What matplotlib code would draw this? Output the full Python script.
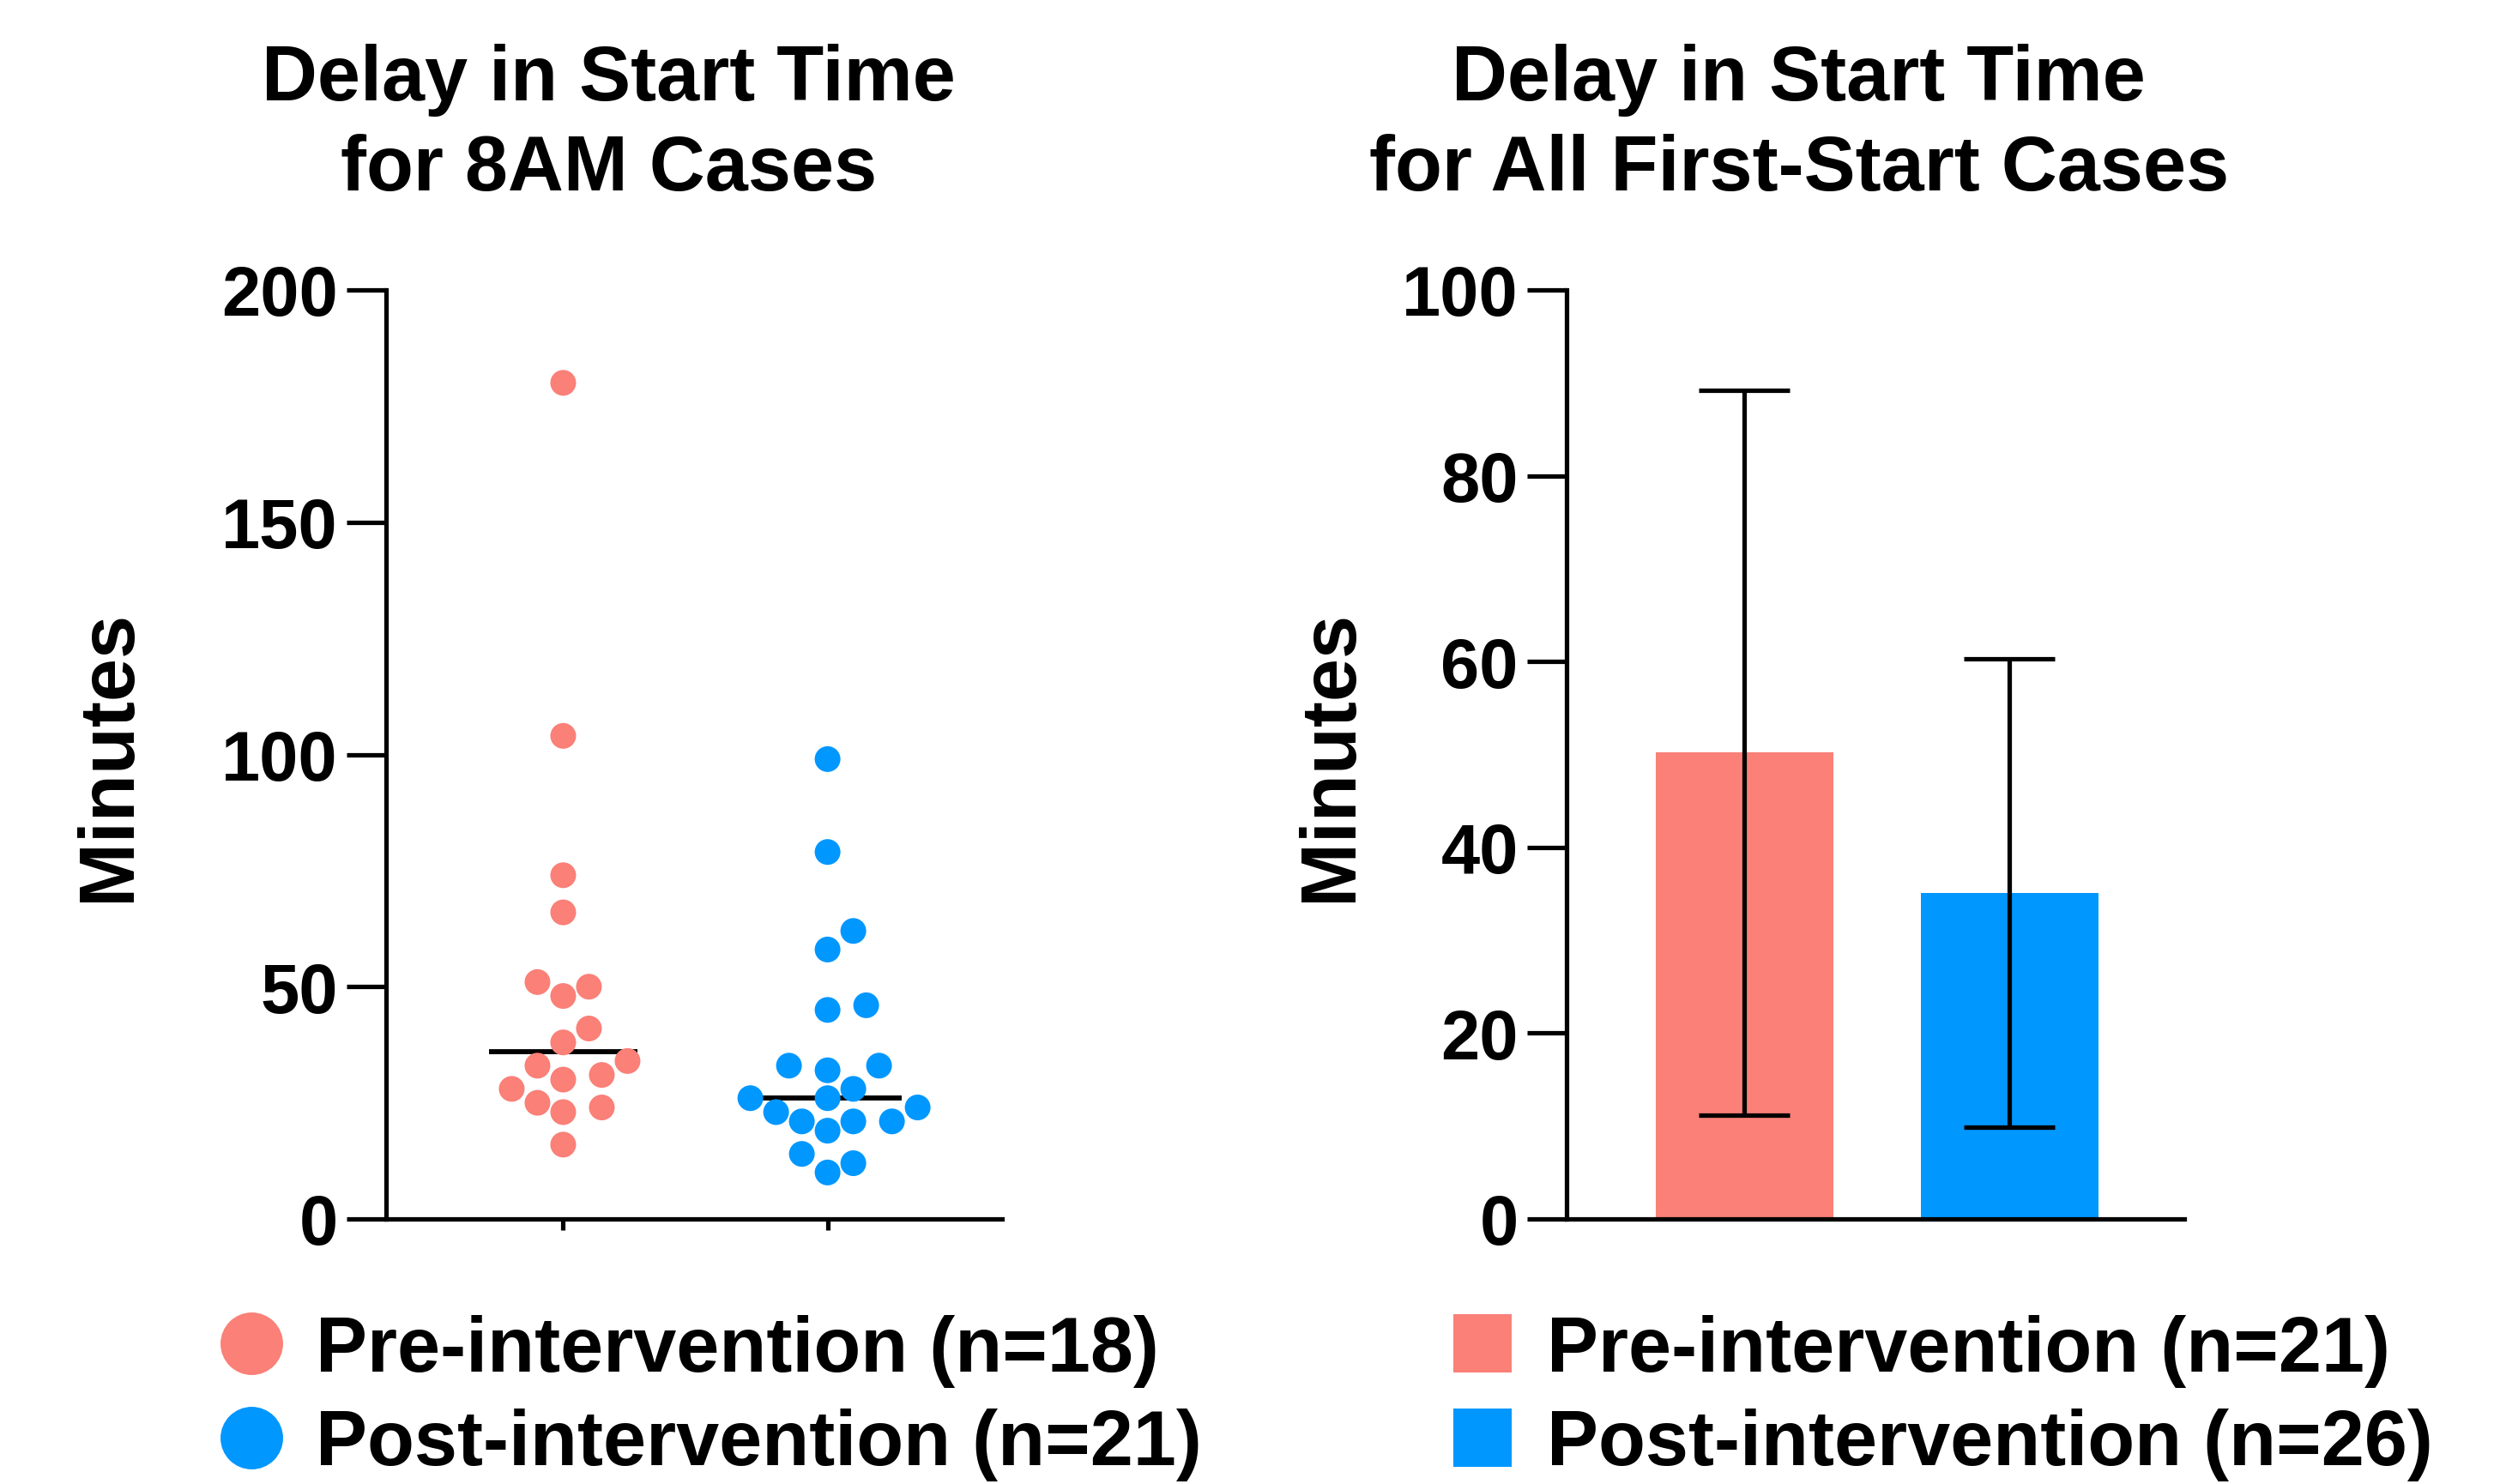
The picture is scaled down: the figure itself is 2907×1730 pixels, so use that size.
import numpy as np
import matplotlib
matplotlib.use("Agg")
import matplotlib.pyplot as plt
from matplotlib.lines import Line2D

# ---------------- data ----------------
groups = ["Pre-intervention", "Post-intervention"]
pre_8am = [180, 104, 74, 66, 51, 50, 48, 41, 38, 34, 33, 31, 30, 28, 25, 24, 23, 16]
post_8am = [99, 79, 62, 58, 46, 45, 33, 33, 32, 28, 26, 26, 24, 23, 21, 21, 21, 19, 14, 12, 10]
n_8am = [18, 21]
bar_means = [50.2, 35.1]
bar_sd = [39.0, 25.2]
n_all = [21, 26]
colors = ["#FA8078", "#0097FF"]
left_title = "Delay in Start Time\nfor 8AM Cases"
right_title = "Delay in Start Time\nfor All First-Start Cases"
left_yticks = [0, 50, 100, 150, 200]
right_yticks = [0, 20, 40, 60, 80, 100]

plt.rcParams["font.family"] = ["Liberation Sans", "DejaVu Sans"]
plt.rcParams["font.weight"] = "bold"
FS_TICK = 19.5
FS = 21.6

W, H, DPI = 2907, 1731, 300
fig = plt.figure(figsize=(W / DPI, H / DPI), dpi=DPI)

def px_rect(x0, x1, ytop, ybot):
    return [x0 / W, 1 - ybot / H, (x1 - x0) / W, (ybot - ytop) / H]

axL = fig.add_axes(px_rect(450, 1168, 339, 1422))
axR = fig.add_axes(px_rect(1826, 2546, 339, 1422))

XLIM = (-0.67, 1.66)
for ax in (axL, axR):
    ax.spines["top"].set_visible(False)
    ax.spines["right"].set_visible(False)
    ax.spines["left"].set_linewidth(1.25)
    ax.spines["bottom"].set_linewidth(1.25)
    ax.set_xlim(*XLIM)
    ax.tick_params(axis="y", length=11, width=1.25, pad=2.5, labelsize=FS_TICK)

# ---------------- left: swarm ----------------
axL.set_ylim(0, 200)
axL.set_yticks(left_yticks)
axL.set_xticks([0, 1])
axL.set_xticklabels([])
axL.tick_params(axis="x", length=3, width=1.25)


def swarm_offsets(ax, xpos, values, diam_px, mind_factor=1.05, step_factor=0.5):
    pts = ax.transData.transform(np.column_stack([np.full(len(values), xpos), values]))
    ys = pts[:, 1]
    order = np.argsort(values)
    placed = []
    xs = np.zeros(len(values))
    step = diam_px * step_factor
    mind = diam_px * mind_factor
    cands = [0]
    for j in range(1, 40):
        cands += [j, -j]
    for i in order:
        y = ys[i]
        for c in cands:
            x = c * step
            if all((x - px) ** 2 + (y - py) ** 2 >= mind ** 2 for px, py in placed):
                break
        placed.append((x, y))
        xs[i] = x
    x0 = ax.transData.transform((xpos, 0))[0]
    x1 = ax.transData.transform((xpos + 1, 0))[0]
    return xpos + xs / (x1 - x0)

DIAM_PX = 30
ms_pt = DIAM_PX / DPI * 72
for i, vals in enumerate([pre_8am, post_8am]):
    xs = swarm_offsets(axL, i, vals, DIAM_PX)
    axL.scatter(xs, vals, s=ms_pt ** 2, color=colors[i], edgecolors="none", zorder=3)
    med = np.median(vals)
    axL.hlines(med, i - 0.28, i + 0.28, color="black", lw=1.4, zorder=2)

axL.set_ylabel("Minutes", fontsize=FS, fontweight="bold")
axL.yaxis.set_label_coords(-0.39, 0.5)
axL.text(0.362, 1.108, left_title, transform=axL.transAxes, ha="center", va="baseline",
         fontsize=FS, fontweight="bold", linespacing=1.3)

# ---------------- right: bars ----------------
axR.set_ylim(0, 100)
axR.set_yticks(right_yticks)
axR.set_xticks([0, 1])
axR.set_xticklabels([])
axR.tick_params(axis="x", length=0)
axR.bar([0, 1], bar_means, width=0.67, color=colors, yerr=bar_sd, capsize=12.7,
        error_kw=dict(elinewidth=1.25, capthick=1.25, ecolor="black"), zorder=2)
axR.set_ylabel("Minutes", fontsize=FS, fontweight="bold")
axR.yaxis.set_label_coords(-0.322, 0.5)
axR.text(0.376, 1.108, right_title, transform=axR.transAxes, ha="center", va="baseline",
         fontsize=FS, fontweight="bold", linespacing=1.3)

for ax in (axL, axR):
    for lab in ax.get_yticklabels():
        lab.set_fontweight("bold")

# ---------------- legends ----------------
hL = [Line2D([], [], ls="none", marker="o", markersize=17.5, color=colors[i],
             markeredgewidth=0) for i in range(2)]
labL = [f"{groups[i]} (n={n_8am[i]})" for i in range(2)]
hR = [Line2D([], [], ls="none", marker="s", markersize=16.5, color=colors[i],
             markeredgewidth=0) for i in range(2)]
labR = [f"{groups[i]} (n={n_all[i]})" for i in range(2)]

common = dict(frameon=False, loc="center left", borderpad=0, borderaxespad=0,
              handlelength=1.0, handletextpad=0.33, labelspacing=0.27,
              prop=dict(size=FS, weight="bold"))
fig.legend(hL, labL, bbox_to_anchor=(248 / W, 1 - 1630 / H), **common)
fig.legend(hR, labR, bbox_to_anchor=(1683 / W, 1 - 1630 / H), **common)

fig.savefig("out.png", dpi=DPI)
